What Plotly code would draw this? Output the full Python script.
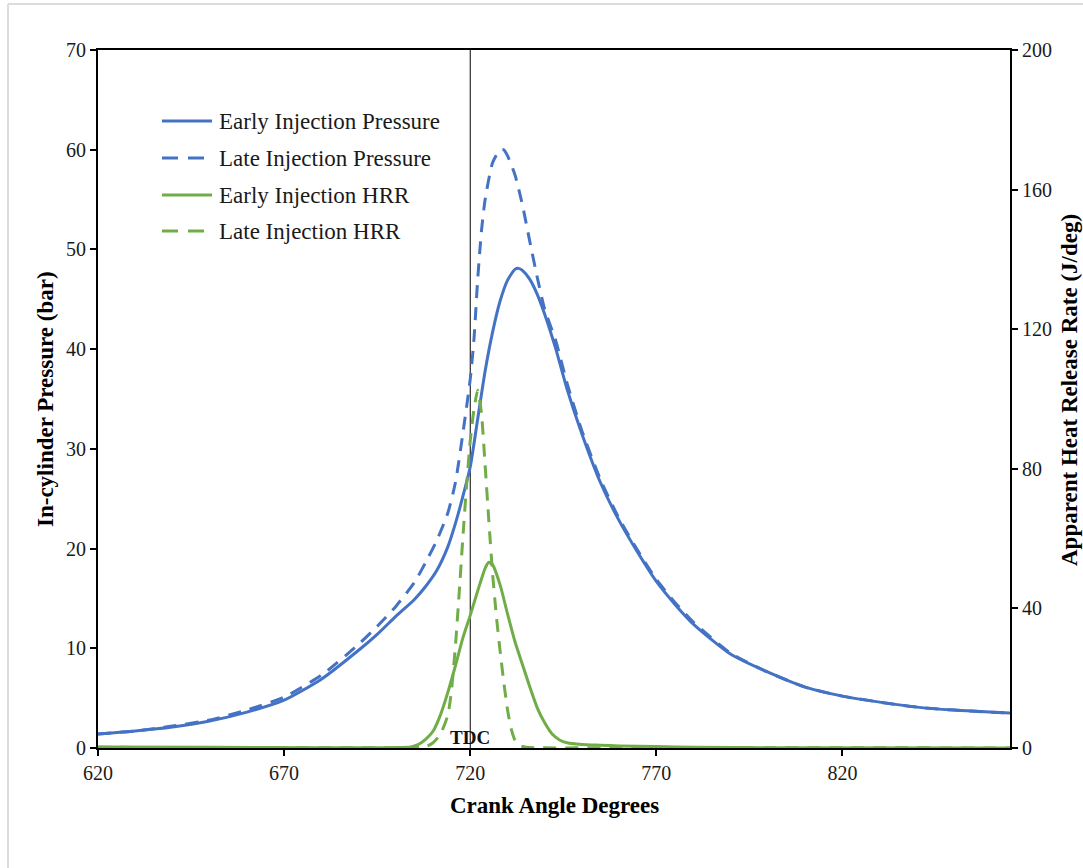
import plotly.graph_objects as go

# Crank angle (deg) and in-cylinder pressure (bar)
ca_p_early = [620, 630, 640, 650, 660, 670, 680, 690, 695, 700, 705, 708, 711, 714, 716, 718,
              720, 722, 724, 726, 728, 730, 732, 733, 734, 736, 738, 740, 743, 746, 750, 755,
              760, 765, 770, 775, 780, 790, 800, 810, 820, 830, 840, 850, 865]
p_early = [1.4, 1.7, 2.1, 2.7, 3.6, 4.8, 6.9, 9.8, 11.4, 13.2, 14.9, 16.2, 17.8, 20.2, 22.5, 25.2,
           28.2, 33.0, 37.8, 41.7, 44.8, 46.9, 48.0, 48.1, 47.9, 47.0, 45.5, 43.5, 40.0, 36.0, 31.5, 26.6,
           22.8, 19.6, 16.7, 14.4, 12.4, 9.4, 7.6, 6.1, 5.2, 4.6, 4.1, 3.8, 3.5]

ca_p_late = [620, 630, 640, 650, 660, 670, 680, 690, 695, 700, 705, 708, 711, 714, 716, 718,
             720, 721, 722, 723, 724, 726, 728, 729, 730, 732, 734, 736, 738, 740, 743, 746,
             750, 755, 760, 765, 770, 775, 780, 790, 800, 810, 820, 830, 840, 850, 865]
p_late = [1.4, 1.7, 2.2, 2.8, 3.8, 5.1, 7.3, 10.4, 12.2, 14.2, 16.6, 18.6, 20.8, 23.6, 26.6, 31.5,
          37.0, 41.0, 47.0, 51.8, 55.0, 58.7, 60.0, 60.0, 59.4, 57.5, 54.5, 50.8, 47.2, 44.0, 40.8, 36.6,
          31.8, 26.9, 23.0, 19.8, 16.9, 14.6, 12.6, 9.5, 7.6, 6.1, 5.2, 4.6, 4.1, 3.8, 3.5]

# Crank angle (deg) and apparent heat release rate (J/deg)
ca_hrr_early = [620, 650, 680, 700, 704, 706, 708, 710, 712, 714, 716, 718, 720, 722, 724, 725,
                726, 728, 730, 732, 734, 736, 738, 740, 742, 744, 746, 750, 755, 760, 770, 780,
                800, 865]
hrr_early = [0.3, 0.2, 0.1, 0.1, 0.3, 1.0, 2.5, 4.8, 9.5, 16.0, 23.5, 31.5, 38.0, 45.0, 51.5, 53.2,
             52.5, 46.8, 38.5, 30.5, 24.0, 17.5, 11.5, 7.2, 4.0, 2.3, 1.5, 1.0, 0.8, 0.6, 0.4, 0.2,
             0.1, 0.0]

ca_hrr_late = [620, 660, 700, 708, 710, 712, 714, 715, 716, 717, 718, 719, 720, 721, 722, 723,
               724, 725, 726, 727, 728, 729, 730, 731, 732, 733, 735, 760, 800, 865]
hrr_late = [0.2, 0.1, 0.1, 0.4, 1.5, 4.0, 9.5, 17.0, 29.0, 44.0, 60.0, 75.0, 88.0, 97.0, 102.5, 96.0,
            81.0, 65.0, 50.0, 38.0, 28.0, 19.0, 11.0, 5.5, 2.3, 0.8, 0.2, 0.1, 0.1, 0.0]

series_names = ["Early Injection Pressure", "Late Injection Pressure",
                "Early Injection HRR", "Late Injection HRR"]

BLUE = "#4472C4"
GREEN = "#70AD47"
SERIF = "Times New Roman, Liberation Serif, serif"
DASH = "13px,9px"

# plot area in pixels: left 98, right 1010, top 50, bottom 748
PL, PR, PT, PB = 98, 1010, 50, 748


def px_x(px):
    return (px - PL) / (PR - PL)


def px_y(py):
    return (PB - py) / (PB - PT)


styles = [(BLUE, None, "y"), (BLUE, DASH, "y"), (GREEN, None, "y2"), (GREEN, DASH, "y2")]
datasets = [(ca_p_early, p_early), (ca_p_late, p_late),
            (ca_hrr_early, hrr_early), (ca_hrr_late, hrr_late)]

fig = go.Figure()
for name, (color, dash, axis), (xs, ys) in zip(series_names, styles, datasets):
    fig.add_trace(go.Scatter(x=xs, y=ys, name=name, mode="lines", yaxis=axis,
                             line=dict(color=color, width=3, dash=dash,
                                       shape="spline", smoothing=0.6),
                             showlegend=False))

tick_font = dict(family=SERIF, size=20, color="#1a1a1a")
title_font = dict(family=SERIF, size=23, color="black")
axis_common = dict(showgrid=False, zeroline=False, showline=True, linecolor="black",
                   linewidth=2, ticks="outside", ticklen=6, tickcolor="black", tickwidth=2,
                   tickfont=tick_font, layer="below traces")

fig.update_layout(
    width=1083, height=868,
    margin=dict(l=PL, r=1083 - PR, t=PT, b=868 - PB),
    paper_bgcolor="white", plot_bgcolor="white",
    showlegend=False,
    xaxis=dict(range=[620, 865], tick0=620, dtick=50, mirror=True, **axis_common),
    yaxis=dict(range=[0, 70], dtick=10, **axis_common),
    yaxis2=dict(range=[0, 200], dtick=40, overlaying="y", side="right", **axis_common),
)

# Legend: sample line + label for each series
legend_rows = [121, 158, 195, 231]
for name, (color, dash, _), row in zip(series_names, styles, legend_rows):
    fig.add_shape(type="line", xref="paper", yref="paper",
                  x0=px_x(162), x1=px_x(212), y0=px_y(row), y1=px_y(row),
                  line=dict(color=color, width=3, dash="16px,10px" if dash else None))
    fig.add_annotation(x=px_x(217), xref="paper", y=px_y(row), yref="paper", text=name,
                       showarrow=False, xanchor="left", yanchor="middle",
                       font=dict(family=SERIF, size=23, color="#1a1a1a"))

# TDC reference line
fig.add_shape(type="line", xref="x", yref="paper", x0=720, x1=720, y0=0, y1=1,
              line=dict(color="black", width=1), layer="below")
fig.add_annotation(x=720, xref="x", y=px_y(737), yref="paper", text="<b>TDC</b>",
                   showarrow=False, font=dict(family=SERIF, size=19, color="#111"),
                   xanchor="center", yanchor="middle")

# Axis titles
fig.add_annotation(x=0.5, xref="paper", y=px_y(805), yref="paper",
                   text="<b>Crank Angle Degrees</b>", showarrow=False,
                   font=title_font, xanchor="center", yanchor="middle")
fig.add_annotation(x=px_x(45), xref="paper", y=px_y(399), yref="paper",
                   text="<b>In-cylinder Pressure (bar)</b>", showarrow=False, textangle=-90,
                   font=title_font, xanchor="center", yanchor="middle")
fig.add_annotation(x=px_x(1069), xref="paper", y=px_y(390), yref="paper",
                   text="<b>Apparent Heat Release Rate (J/deg)</b>", showarrow=False, textangle=-90,
                   font=title_font, xanchor="center", yanchor="middle")

# Page frame
fig.add_shape(type="line", xref="paper", yref="paper", x0=px_x(8), x1=px_x(1100),
              y0=px_y(4), y1=px_y(4), line=dict(color="#dcdcdc", width=2))
fig.add_shape(type="line", xref="paper", yref="paper", x0=px_x(8), x1=px_x(8),
              y0=px_y(900), y1=px_y(4), line=dict(color="#dcdcdc", width=2))

fig.write_html("out.html")
